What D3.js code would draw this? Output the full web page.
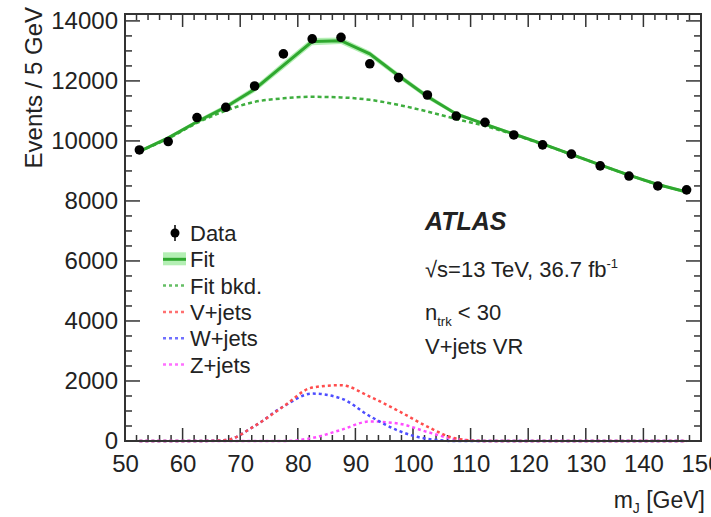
<!DOCTYPE html>
<head>
    <meta charset="utf-8">
    <title>Events / 5 GeV vs m_J</title>
    <style>
        body { margin: 0; background: #fff; }
        text { font-family: "Liberation Sans", Arial, sans-serif; fill: #222; }
    </style>
</head>
<body>
    <script src="https://d3js.org/d3.v7.min.js"></script>
    <script>
        // bin centres (GeV)
        var binCentres = [52.5, 57.5, 62.5, 67.5, 72.5, 77.5, 82.5, 87.5, 92.5, 97.5,
                          102.5, 107.5, 112.5, 117.5, 122.5, 127.5, 132.5, 137.5, 142.5, 147.5];

        var dataCounts = [9700, 9980, 10780, 11120, 11830, 12900, 13400, 13450, 12570, 12110,
                          11530, 10830, 10620, 10200, 9870, 9560, 9170, 8830, 8500, 8370];

        var fitValues = [9650, 10100, 10640, 11130, 11720, 12520, 13310, 13340, 12900, 12170,
                         11480, 10900, 10560, 10230, 9900, 9550, 9200, 8860, 8550, 8300];
        var fitErr = [50, 60, 70, 80, 100, 120, 120, 110, 100, 90,
                      80, 60, 50, 50, 50, 50, 50, 50, 50, 50];

        var bkgValues = [9650, 10080, 10600, 11010, 11300, 11420, 11470, 11450, 11370, 11200,
                         10980, 10730, 10500, 10210, 9890, 9550, 9200, 8860, 8550, 8300];

        var vjets = [0, 0, 0, 30, 500, 1150, 1780, 1860, 1480, 1000,
                     480, 80, 0, 0, 0, 0, 0, 0, 0, 0];
        var wjets = [0, 0, 0, 30, 500, 1150, 1580, 1420, 830, 340,
                     70, 0, 0, 0, 0, 0, 0, 0, 0, 0];
        var zjets = [0, 0, 0, 0, 0, 0, 100, 370, 650, 580,
                     300, 60, 0, 0, 0, 0, 0, 0, 0, 0];

        var xTicks = [50, 60, 70, 80, 90, 100, 110, 120, 130, 140, 150];
        var yTicks = [0, 2000, 4000, 6000, 8000, 10000, 12000, 14000];

        var legendLabels = ["Data", "Fit", "Fit bkd.", "V+jets", "W+jets", "Z+jets"];

        var width = 711,
            height = 517;
        var margin = { left: 125, top: 14, right: 10, bottom: 76 };
        var w = width - margin.left - margin.right,
            h = height - margin.top - margin.bottom;

        var x = d3.scaleLinear().domain([50, 150]).range([0, w]);
        var y = d3.scaleLinear().domain([0, 14230]).range([h, 0]);

        var svg = d3.select("body").append("svg")
            .attr("width", width)
            .attr("height", height);
        var g = svg.append("g")
            .attr("transform", "translate(" + margin.left + "," + margin.top + ")");

        var frameColor = "#333";

        // minor + major ticks, drawn on all four sides pointing inward
        function drawTicks() {
            var xMinor = d3.range(50, 150.01, 2);
            var yMinor = d3.range(0, 14001, 500);
            xMinor.forEach(function (v) {
                var len = (v % 10 === 0) ? 13 : 6;
                g.append("line").attr("x1", x(v)).attr("x2", x(v))
                    .attr("y1", h).attr("y2", h - len)
                    .attr("stroke", frameColor).attr("stroke-width", 1.5);
                g.append("line").attr("x1", x(v)).attr("x2", x(v))
                    .attr("y1", 0).attr("y2", len)
                    .attr("stroke", frameColor).attr("stroke-width", 1.5);
            });
            yMinor.forEach(function (v) {
                var len = (v % 2000 === 0) ? 15 : 7;
                g.append("line").attr("y1", y(v)).attr("y2", y(v))
                    .attr("x1", 0).attr("x2", len)
                    .attr("stroke", frameColor).attr("stroke-width", 1.5);
                g.append("line").attr("y1", y(v)).attr("y2", y(v))
                    .attr("x1", w).attr("x2", w - len)
                    .attr("stroke", frameColor).attr("stroke-width", 1.5);
            });
        }
        drawTicks();

        // tick labels via d3 axes, tick lines hidden
        var xAxis = g.append("g")
            .attr("transform", "translate(0," + h + ")")
            .call(d3.axisBottom(x).tickValues(xTicks).tickFormat(d3.format("d")).tickSize(0).tickPadding(14));
        xAxis.select(".domain").remove();
        xAxis.selectAll("text")
            .style("font-size", "24px")
            .style("font-family", "Liberation Sans, Arial, sans-serif")
            .attr("fill", "#222");

        var yAxis = g.append("g")
            .call(d3.axisLeft(y).tickValues(yTicks).tickFormat(d3.format("d")).tickSize(0).tickPadding(7));
        yAxis.select(".domain").remove();
        yAxis.selectAll("text")
            .style("font-size", "24px")
            .style("font-family", "Liberation Sans, Arial, sans-serif")
            .attr("fill", "#222");

        // fit uncertainty band
        var band = d3.area()
            .x(function (d, i) { return x(binCentres[i]); })
            .y0(function (d, i) { return y(d - fitErr[i]); })
            .y1(function (d, i) { return y(d + fitErr[i]); });
        g.append("path")
            .datum(fitValues)
            .attr("d", band)
            .attr("fill", "#b4efb4");

        function lineOf(curve) {
            return d3.line()
                .x(function (d, i) { return x(binCentres[i]); })
                .y(function (d) { return y(d); })
                .curve(curve);
        }

        // components
        var comps = [
            { vals: zjets, color: "#ff4dff" },
            { vals: wjets, color: "#4d4dff" },
            { vals: vjets, color: "#ff4d4d" }
        ];
        comps.forEach(function (c) {
            g.append("path")
                .datum(c.vals)
                .attr("d", lineOf(d3.curveMonotoneX))
                .attr("fill", "none")
                .attr("stroke", c.color)
                .attr("stroke-width", 2.5)
                .attr("stroke-dasharray", "3,3");
        });

        g.append("path")
            .datum(bkgValues)
            .attr("d", lineOf(d3.curveMonotoneX))
            .attr("fill", "none")
            .attr("stroke", "#3fae3f")
            .attr("stroke-width", 2.5)
            .attr("stroke-dasharray", "4,3");

        g.append("path")
            .datum(fitValues)
            .attr("d", lineOf(d3.curveLinear))
            .attr("fill", "none")
            .attr("stroke", "#2fa82f")
            .attr("stroke-width", 3);

        // data points with stat errors
        g.selectAll(".err")
            .data(dataCounts)
            .enter().append("line")
            .attr("x1", function (d, i) { return x(binCentres[i]); })
            .attr("x2", function (d, i) { return x(binCentres[i]); })
            .attr("y1", function (d) { return y(d - Math.sqrt(d)); })
            .attr("y2", function (d) { return y(d + Math.sqrt(d)); })
            .attr("stroke", "#000")
            .attr("stroke-width", 1.5);
        g.selectAll(".pt")
            .data(dataCounts)
            .enter().append("circle")
            .attr("cx", function (d, i) { return x(binCentres[i]); })
            .attr("cy", function (d) { return y(d); })
            .attr("r", 4.8)
            .attr("fill", "#000");

        // frame
        g.append("rect")
            .attr("width", w).attr("height", h)
            .attr("fill", "none")
            .attr("stroke", frameColor)
            .attr("stroke-width", 2);

        // axis titles
        svg.append("text")
            .attr("transform", "translate(42,7) rotate(-90)")
            .attr("text-anchor", "end")
            .style("font-size", "24px")
            .text("Events / 5 GeV");

        var xt = svg.append("text")
            .attr("x", 705).attr("y", 508)
            .attr("text-anchor", "end")
            .style("font-size", "23px");
        xt.append("tspan").text("m");
        xt.append("tspan").attr("dy", 5).style("font-size", "14px").text("J");
        xt.append("tspan").attr("dy", -5).text(" [GeV]");

        // legend
        var lg = svg.append("g").attr("transform", "translate(163,233)");
        var rowH = 26.3;
        legendLabels.forEach(function (lab, i) {
            var row = lg.append("g").attr("transform", "translate(0," + (i * rowH) + ")");
            if (i === 0) {
                row.append("line").attr("x1", 12).attr("x2", 12).attr("y1", -8).attr("y2", 8)
                    .attr("stroke", "#000").attr("stroke-width", 1.5);
                row.append("circle").attr("cx", 12).attr("cy", 0).attr("r", 4.5).attr("fill", "#000");
            } else if (i === 1) {
                row.append("rect").attr("x", 0).attr("y", -7).attr("width", 23).attr("height", 13)
                    .attr("fill", "#b4efb4");
                row.append("line").attr("x1", 0).attr("x2", 23).attr("y1", 0).attr("y2", 0)
                    .attr("stroke", "#2fa82f").attr("stroke-width", 3);
            } else {
                var cols = ["#3fae3f", "#ff4d4d", "#4d4dff", "#ff4dff"];
                row.append("line").attr("x1", 0).attr("x2", 23).attr("y1", 0).attr("y2", 0)
                    .attr("stroke", cols[i - 2]).attr("stroke-width", 2.5)
                    .attr("stroke-dasharray", "3,3").attr("opacity", 0.8);
            }
            row.append("text")
                .attr("x", 27).attr("y", 8)
                .style("font-size", "22px")
                .text(lab);
        });

        // ATLAS label block
        svg.append("text")
            .attr("x", 425).attr("y", 230)
            .style("font-size", "25px")
            .style("font-weight", "bold")
            .style("font-style", "italic")
            .text("ATLAS");

        var t1 = svg.append("text")
            .attr("x", 425).attr("y", 277)
            .style("font-size", "22px");
        t1.append("tspan").text("\u221As=13 TeV, 36.7 fb");
        t1.append("tspan").attr("dy", -9).style("font-size", "13px").text("-1");

        var t2 = svg.append("text")
            .attr("x", 425).attr("y", 320)
            .style("font-size", "22px");
        t2.append("tspan").text("n");
        t2.append("tspan").attr("dy", 6).style("font-size", "13px").text("trk");
        t2.append("tspan").attr("dy", -6).text(" < 30");

        svg.append("text")
            .attr("x", 425).attr("y", 354)
            .style("font-size", "22px")
            .text("V+jets VR");
    </script>
</body>
